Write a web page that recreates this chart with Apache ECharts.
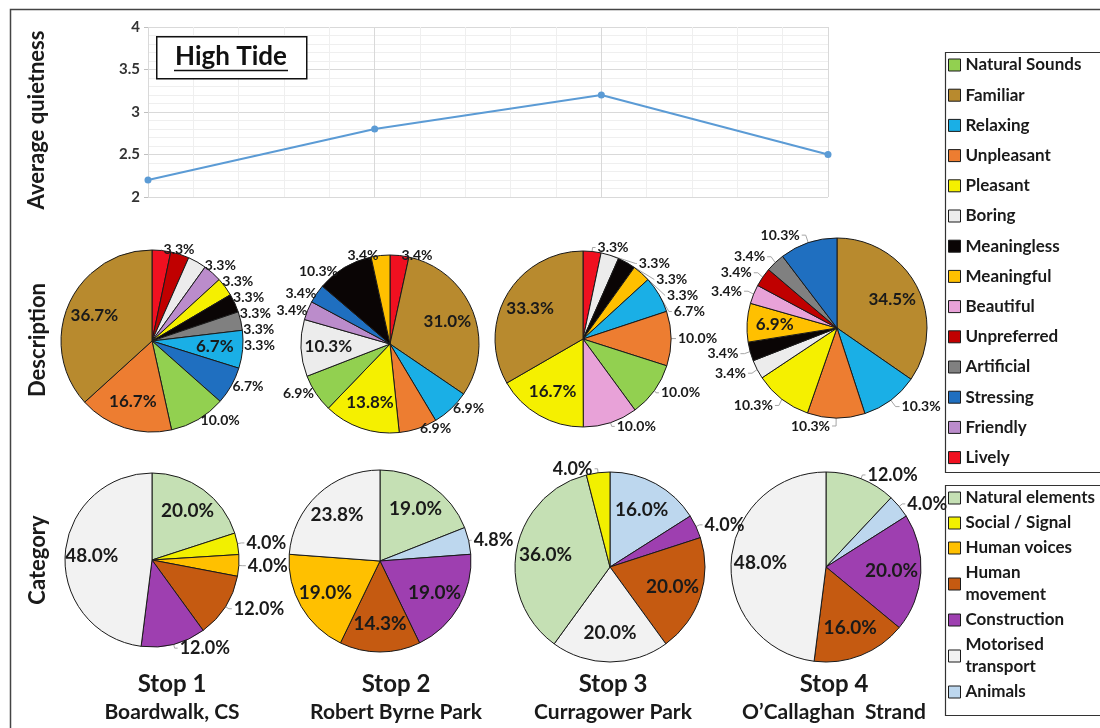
<!DOCTYPE html>
<html>
<head>
<meta charset="utf-8">
<script src="https://cdn.jsdelivr.net/npm/echarts@6/dist/echarts.min.js"></script>
<style>
html,body{margin:0;padding:0;background:#fff;}
#chart{width:1100px;height:728px;}
</style>
</head>
<body>
<div id="chart"></div>
<script>
// ---------------- DATA ----------------
const stops = ['Stop 1', 'Stop 2', 'Stop 3', 'Stop 4'];
const stopPlaces = ['Boardwalk, CS', 'Robert Byrne Park', 'Curragower Park', 'O\u2019Callaghan  Strand'];
const quietness = [2.2, 2.8, 3.2, 2.5];

const descNames = ['Natural Sounds', 'Familiar', 'Relaxing', 'Unpleasant', 'Pleasant', 'Boring', 'Meaningless',
  'Meaningful', 'Beautiful', 'Unpreferred', 'Artificial', 'Stressing', 'Friendly', 'Lively'];
const catNames = ['Natural elements', 'Social / Signal', 'Human voices', 'Human movement', 'Construction',
  'Motorised transport', 'Animals'];

// Description pies (clockwise from 12 o'clock), percentages
const desc1Names = ['Lively', 'Unpreferred', 'Boring', 'Friendly', 'Pleasant', 'Meaningless', 'Artificial', 'Relaxing', 'Stressing', 'Natural Sounds', 'Unpleasant', 'Familiar'];
const desc1Values = [3.3, 3.3, 3.3, 3.3, 3.3, 3.3, 3.3, 6.7, 6.7, 10.0, 16.7, 36.7];
const desc2Names = ['Lively', 'Familiar', 'Relaxing', 'Unpleasant', 'Pleasant', 'Natural Sounds', 'Boring', 'Friendly', 'Stressing', 'Meaningless', 'Meaningful'];
const desc2Values = [3.4, 31.0, 6.9, 6.9, 13.8, 6.9, 10.3, 3.4, 3.4, 10.3, 3.4];
const desc3Names = ['Lively', 'Boring', 'Meaningless', 'Meaningful', 'Relaxing', 'Unpleasant', 'Natural Sounds', 'Beautiful', 'Pleasant', 'Familiar'];
const desc3Values = [3.3, 3.3, 3.3, 3.3, 6.7, 10.0, 10.0, 10.0, 16.7, 33.3];
const desc4Names = ['Familiar', 'Relaxing', 'Unpleasant', 'Pleasant', 'Boring', 'Meaningless', 'Meaningful', 'Beautiful', 'Unpreferred', 'Artificial', 'Stressing'];
const desc4Values = [34.5, 10.3, 10.3, 10.3, 3.4, 3.4, 6.9, 3.4, 3.4, 3.4, 10.3];

// Category pies (clockwise from 12 o'clock), percentages
const cat1Names = ['Natural elements', 'Social / Signal', 'Human voices', 'Human movement', 'Construction', 'Motorised transport'];
const cat1Values = [20.0, 4.0, 4.0, 12.0, 12.0, 48.0];
const cat2Names = ['Natural elements', 'Animals', 'Construction', 'Human movement', 'Human voices', 'Motorised transport'];
const cat2Values = [19.0, 4.8, 19.0, 14.3, 19.0, 23.8];
const cat3Names = ['Animals', 'Construction', 'Human movement', 'Motorised transport', 'Natural elements', 'Social / Signal'];
const cat3Values = [16.0, 4.0, 20.0, 20.0, 36.0, 4.0];
const cat4Names = ['Natural elements', 'Animals', 'Construction', 'Human movement', 'Motorised transport'];
const cat4Values = [12.0, 4.0, 20.0, 16.0, 48.0];

// ---------------- STYLE ----------------
const descColors = ['#92D050', '#B88A2E', '#1AAFE6', '#ED7D31', '#F5F000', '#ECECEC', '#0A0505',
  '#FFC000', '#E8A2D8', '#C00000', '#808080', '#1F6FC0', '#BB8CCB', '#F01020'];
const catColors = ['#C5E0B4', '#F2F000', '#FFC000', '#C55A11', '#9E3FB0', '#F2F2F2', '#BDD7EE'];
const colorOf = {};
descNames.forEach((n, i) => colorOf[n] = descColors[i]);
catNames.forEach((n, i) => colorOf[n] = catColors[i]);

const FONT = 'Lato, "Open Sans", sans-serif';
const TXT = '#1a1a1a';

// which labels sit inside the slices
const descInside = [
  ['Familiar', 'Unpleasant', 'Relaxing'],
  ['Familiar', 'Pleasant', 'Boring'],
  ['Familiar', 'Pleasant'],
  ['Familiar', 'Meaningful']
];
const catInside = [
  ['Natural elements', 'Motorised transport'],
  ['Natural elements', 'Construction', 'Human movement', 'Human voices', 'Motorised transport'],
  ['Animals', 'Human movement', 'Motorised transport', 'Natural elements'],
  ['Motorised transport', 'Construction', 'Human movement']
];

const descPies = [
  {names: desc1Names, values: desc1Values, center: [152, 341], r: 91, avoid: true, len: 1, len2: 0},
  {names: desc2Names, values: desc2Values, center: [390, 344], r: 89, avoid: true, len: 0, len2: 0},
  {names: desc3Names, values: desc3Values, center: [583, 339], r: 88, avoid: true, len: 4, len2: 3},
  {names: desc4Names, values: desc4Values, center: [837, 328], r: 90, avoid: true, len: 8, len2: 4}
];
const catPies = [
  {names: cat1Names, values: cat1Values, center: [152, 560], r: 87, avoid: false, len: 4, len2: 3},
  {names: cat2Names, values: cat2Values, center: [380, 561], r: 91, avoid: false, len: 2, len2: 1},
  {names: cat3Names, values: cat3Values, center: [610, 567], r: 95, avoid: false, len: 4, len2: 3},
  {names: cat4Names, values: cat4Values, center: [826, 567], r: 95, avoid: false, len: 4, len2: 3}
];
const stopCenters = [172, 396, 613, 834];

const pct = p => Number(p.value).toFixed(1) + '%';

function pieSeries(p, inside, outSize, outLine, inSize) {
  const main = {
    type: 'pie', center: p.center, radius: p.r, startAngle: 90, clockwise: true,
    avoidLabelOverlap: p.avoid, animation: false,
    labelLayout: {hideOverlap: false},
    emphasis: {disabled: true},
    itemStyle: {borderColor: '#1a1a1a', borderWidth: 1},
    label: {show: true, position: 'outside', formatter: pct, fontFamily: FONT, fontWeight: 'bold',
      fontSize: outSize, lineHeight: outLine, color: TXT, distanceToLabelLine: 2},
    labelLine: {show: true, length: p.len, length2: p.len2, lineStyle: {color: '#A6A6A6', width: 1}},
    data: p.names.map((n, i) => {
      const d = {name: n, value: p.values[i], itemStyle: {color: colorOf[n]}};
      if (inside.indexOf(n) >= 0) { d.label = {show: false}; d.labelLine = {show: false}; }
      return d;
    })
  };
  const overlay = {
    type: 'pie', center: p.center, radius: [p.r * 0.32, p.r], startAngle: 90, clockwise: true,
    silent: true, animation: false, z: 3, avoidLabelOverlap: false,
    labelLayout: {hideOverlap: false},
    itemStyle: {color: 'rgba(0,0,0,0)', borderWidth: 0},
    label: {show: false, position: 'inside', formatter: pct, fontFamily: FONT, fontWeight: 'bold',
      fontSize: inSize, color: TXT},
    labelLine: {show: false},
    data: p.names.map((n, i) => {
      const d = {name: n, value: p.values[i]};
      if (inside.indexOf(n) >= 0) d.label = {show: true};
      return d;
    })
  };
  return [main, overlay];
}

const series = [{
  type: 'line', xAxisIndex: 0, yAxisIndex: 0, data: quietness, animation: false,
  symbol: 'circle', symbolSize: 7,
  lineStyle: {color: '#5B9BD5', width: 2},
  itemStyle: {color: '#5B9BD5'}
}];
descPies.forEach((p, i) => series.push(...pieSeries(p, descInside[i], 14, 12, 17)));
catPies.forEach((p, i) => series.push(...pieSeries(p, catInside[i], 18, 20, 19)));

const twoLine = {'Human movement': 'Human\nmovement', 'Motorised transport': 'Motorised\ntransport'};

const option = {
  backgroundColor: '#fff',
  animation: false,
  title: stops.map((s, i) => ({
    text: s, subtext: stopPlaces[i], left: stopCenters[i], top: 670, textAlign: 'center', padding: 0, itemGap: 3,
    textStyle: {fontFamily: FONT, fontWeight: 'bold', fontSize: 24, lineHeight: 28, color: TXT},
    subtextStyle: {fontFamily: FONT, fontWeight: 'bold', fontSize: 21, lineHeight: 22, color: TXT}
  })),
  grid: {left: 148, top: 27, width: 680, height: 170},
  xAxis: [{
    type: 'category', data: stops, boundaryGap: false,
    axisLine: {show: false}, axisTick: {show: false}, axisLabel: {show: false},
    splitLine: {show: true, lineStyle: {color: '#D9D9D9'}}
  }, {
    type: 'value', min: 0, max: 3, interval: 1,
    axisLine: {show: false}, axisTick: {show: false}, axisLabel: {show: false},
    splitLine: {show: false},
    minorTick: {show: false, splitNumber: 5},
    minorSplitLine: {show: true, lineStyle: {color: '#EFEFEF'}}
  }],
  yAxis: {
    type: 'value', min: 2, max: 4, interval: 0.5,
    name: 'Average quietness', nameLocation: 'middle', nameGap: 100,
    nameTextStyle: {fontFamily: FONT, fontWeight: 'bold', fontSize: 22, color: TXT, padding: [0, 16, 0, 0]},
    axisLine: {show: false},
    axisTick: {show: true, length: 4, lineStyle: {color: '#BFBFBF'}},
    axisLabel: {fontFamily: FONT, fontWeight: 'bold', fontSize: 15, color: '#333', margin: 8},
    splitLine: {show: true, lineStyle: {color: '#D9D9D9'}},
    minorTick: {show: false, splitNumber: 5},
    minorSplitLine: {show: true, lineStyle: {color: '#EFEFEF'}}
  },
  legend: [{
    data: descNames, orient: 'vertical', left: 943, top: 51, itemGap: 12.2,
    itemWidth: 12, itemHeight: 12, icon: 'rect', selectedMode: false,
    itemStyle: {borderColor: '#1a1a1a', borderWidth: 1},
    textStyle: {fontFamily: FONT, fontWeight: 'bold', fontSize: 17, lineHeight: 18, color: TXT}
  }, {
    data: catNames, orient: 'vertical', left: 943, top: 482, itemGap: 3,
    itemWidth: 12, itemHeight: 12, icon: 'rect', selectedMode: false,
    itemStyle: {borderColor: '#1a1a1a', borderWidth: 1},
    formatter: n => twoLine[n] || n,
    textStyle: {fontFamily: FONT, fontWeight: 'bold', fontSize: 17, lineHeight: 22, color: TXT}
  }],
  graphic: [
    {type: 'rect', left: 8, top: 7, shape: {width: 1110, height: 740}, style: {fill: 'none', stroke: '#444', lineWidth: 1.5}, z: 0},
    {type: 'rect', left: 943, top: 50, shape: {width: 170, height: 420}, style: {fill: 'none', stroke: '#333', lineWidth: 1.2}, z: 0},
    {type: 'rect', left: 943, top: 483, shape: {width: 170, height: 230}, style: {fill: 'none', stroke: '#333', lineWidth: 1.2}, z: 0},
    {type: 'rect', left: 156, top: 36, shape: {width: 150, height: 42}, style: {fill: '#fff', stroke: '#111', lineWidth: 1.5}, z: 10},
    {type: 'text', x: 231, y: 57, style: {text: 'High Tide', fontFamily: FONT, fontWeight: 'bold', fontSize: 26, fill: '#111', align: 'center', verticalAlign: 'middle'}, z: 11},
    {type: 'line', shape: {x1: 174, y1: 70.5, x2: 288, y2: 70.5}, style: {stroke: '#111', lineWidth: 1.6}, z: 11},
    {type: 'text', x: 38, y: 340, rotation: Math.PI / 2, style: {text: 'Description', fontFamily: FONT, fontWeight: 'bold', fontSize: 22, fill: TXT, align: 'center', verticalAlign: 'middle'}},
    {type: 'text', x: 38, y: 560, rotation: Math.PI / 2, style: {text: 'Category', fontFamily: FONT, fontWeight: 'bold', fontSize: 22, fill: TXT, align: 'center', verticalAlign: 'middle'}}
  ],
  series: series
};

const chart = echarts.init(document.getElementById('chart'), null, {renderer: 'canvas'});
chart.setOption(option);
</script>
</body>
</html>
